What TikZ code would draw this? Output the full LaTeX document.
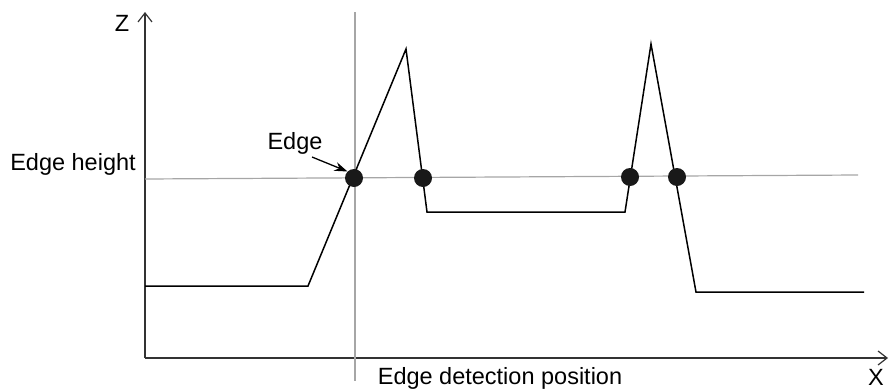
\documentclass[tikz,border=0pt]{standalone}
\usepackage{fontspec}
\setmainfont{Liberation Sans}
\usetikzlibrary{arrows.meta}
\begin{document}
\begin{tikzpicture}[x=1pt,y=-1pt,
  lbl/.style={font=\fontsize{23.5}{28}\selectfont, inner sep=0pt},
  axis/.style={line width=1.2pt, draw=black!80},
  guide/.style={line width=1.2pt, draw=black!35},
  prof/.style={line width=1.5pt, draw=black, line join=miter},
  dot/.style={circle, fill=black!90, minimum size=18pt, inner sep=0pt}]
\useasboundingbox (0,0) rectangle (892,389);
% axes
\coordinate (O) at (145,358);
\coordinate (Zt) at (145,12);
\coordinate (Xt) at (888,358);
\draw[axis, -{Straight Barb[length=9pt,width=14pt,line width=1.2pt]}] (O) -- (Zt);
\draw[axis, -{Straight Barb[length=9pt,width=14pt,line width=1.2pt]}] (O) -- (Xt);
\node[lbl] (Z) at (122,23) {Z};
\node[lbl] (X) at (876,377) {X};
% guides
\coordinate (h1) at (145,179);
\coordinate (h2) at (858,175);
\draw[guide] (h1) -- (h2);
\coordinate (v1) at (355,12);
\coordinate (v2) at (355,381);
\draw[guide] (v1) -- (v2);
% profile
\coordinate (p0) at (145,286);
\coordinate (p1) at (308,286);
\coordinate (p2) at (406,49);
\coordinate (p3) at (427,212);
\coordinate (p4) at (625,212);
\coordinate (p5) at (651,44);
\coordinate (p6) at (696,292);
\coordinate (p7) at (864,292);
\draw[prof] (p0) -- (p1) -- (p2) -- (p3) -- (p4) -- (p5) -- (p6) -- (p7);
% dots
\node[dot] (d1) at (354,178) {};
\node[dot] (d2) at (423,178) {};
\node[dot] (d3) at (630,177) {};
\node[dot] (d4) at (677,177) {};
% labels
\node[lbl] (eh) at (73,164) {Edge height};
\node[lbl] (edge) at (295,143) {Edge};
\coordinate (ea) at (312,157);
\draw[line width=1.3pt, -{Stealth[length=13pt,width=9pt]}] (ea) -- (d1.north west);
\node[lbl] (edp) at (500,378) {Edge detection position};
\end{tikzpicture}
\end{document}
